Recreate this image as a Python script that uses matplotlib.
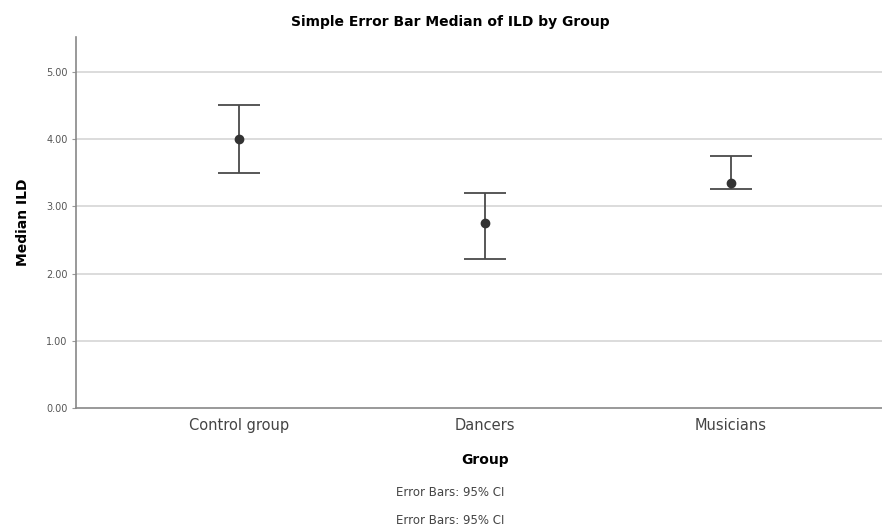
import numpy as np
import matplotlib
matplotlib.use("Agg")
import matplotlib.pyplot as plt

# values
groups = ["Control group", "Dancers", "Musicians"]
medians = [4.00, 2.75, 3.35]
ci_lower = [3.50, 2.22, 3.26]
ci_upper = [4.51, 3.20, 3.75]
yticks = [0, 1, 2, 3, 4, 5]

fig = plt.figure(figsize=(8.82, 5.30), dpi=100)
ax = fig.add_axes([76 / 882, 1 - 408 / 530, 806 / 882, 371 / 530])

x = np.arange(len(groups))
med = np.array(medians)
err = np.array([med - np.array(ci_lower), np.array(ci_upper) - med])

ax.errorbar(x, med, yerr=err, fmt="o", color="#333333", ecolor="#4a4a4a",
            elinewidth=1.3, capsize=15, capthick=1.3, markersize=6, zorder=3)

ax.set_xlim(-0.663, 2.614)
ax.set_ylim(0, 5.52)
ax.set_yticks(yticks)
ax.set_yticklabels(["%.2f" % v for v in yticks], fontsize=7, color="#555555")
ax.set_xticks(x)
ax.set_xticklabels(groups, fontsize=10.5, color="#444444")
ax.tick_params(axis="y", length=3, color="#999999", pad=3)
ax.tick_params(axis="x", length=0, pad=7)

for v in yticks[1:]:
    ax.axhline(v, color="#d9d9d9", lw=1.3, zorder=1)

for s in ["top", "right"]:
    ax.spines[s].set_visible(False)
for s in ["left", "bottom"]:
    ax.spines[s].set_color("#888888")
    ax.spines[s].set_linewidth(1.2)

ax.set_ylabel("Median ILD", fontsize=10, fontweight="bold")
ax.yaxis.set_label_coords(-0.057, 0.5)

fig.text(450 / 882, 1 - 22 / 530, "Simple Error Bar Median of ILD by Group",
         ha="center", va="center", fontsize=10, fontweight="bold")
fig.text(485 / 882, 1 - 460 / 530, "Group", ha="center", va="center",
         fontsize=10, fontweight="bold")
fig.text(450 / 882, 1 - 493 / 530, "Error Bars: 95% CI", ha="center",
         va="center", fontsize=8.5, color="#444444")
fig.text(450 / 882, 1 - 520 / 530, "Error Bars: 95% CI", ha="center",
         va="center", fontsize=8.5, color="#444444")

fig.savefig("out.png", dpi=100)
